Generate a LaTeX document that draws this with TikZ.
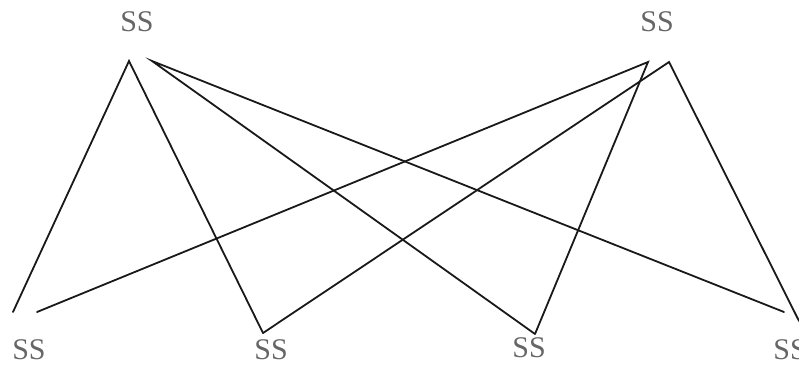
\documentclass[tikz,border=0pt]{standalone}
\usepackage{fontspec}
\setmainfont{Liberation Serif}
\begin{document}
\begin{tikzpicture}[x=1pt,y=-1pt,
  lbl/.style={font=\fontsize{30}{31}\selectfont, text=black!60, inner sep=0pt},
  edge/.style={draw=black!90, line width=1.8pt, line cap=round}]
\useasboundingbox (0,0) rectangle (799,367);
\clip (0,0) rectangle (799,367);
% labels
\node[lbl] (t1) at (137,22) {SS};
\node[lbl] (t2) at (657,22) {SS};
\node[lbl] (b1) at (29,350) {SS};
\node[lbl] (b2) at (271,350) {SS};
\node[lbl] (b3) at (529,348) {SS};
\node[lbl] (b4) at (790,350) {SS};
% endpoints
\coordinate (a1) at (129,61);
\coordinate (a2) at (152,61);
\coordinate (c1) at (648,62);
\coordinate (c2) at (669,62);
\coordinate (p1) at (13,312);
\coordinate (p2) at (37,312);
\coordinate (v2) at (263,333);
\coordinate (v3) at (535,334);
\coordinate (r1) at (784,312);
\coordinate (r2) at (799,321);
% connectors
\draw[edge] (p1) -- (a1) -- (v2);
\draw[edge] (v3) -- (a2) -- (r1);
\draw[edge] (p2) -- (c1) -- (v3);
\draw[edge] (v2) -- (c2) -- (r2);
\end{tikzpicture}
\end{document}
